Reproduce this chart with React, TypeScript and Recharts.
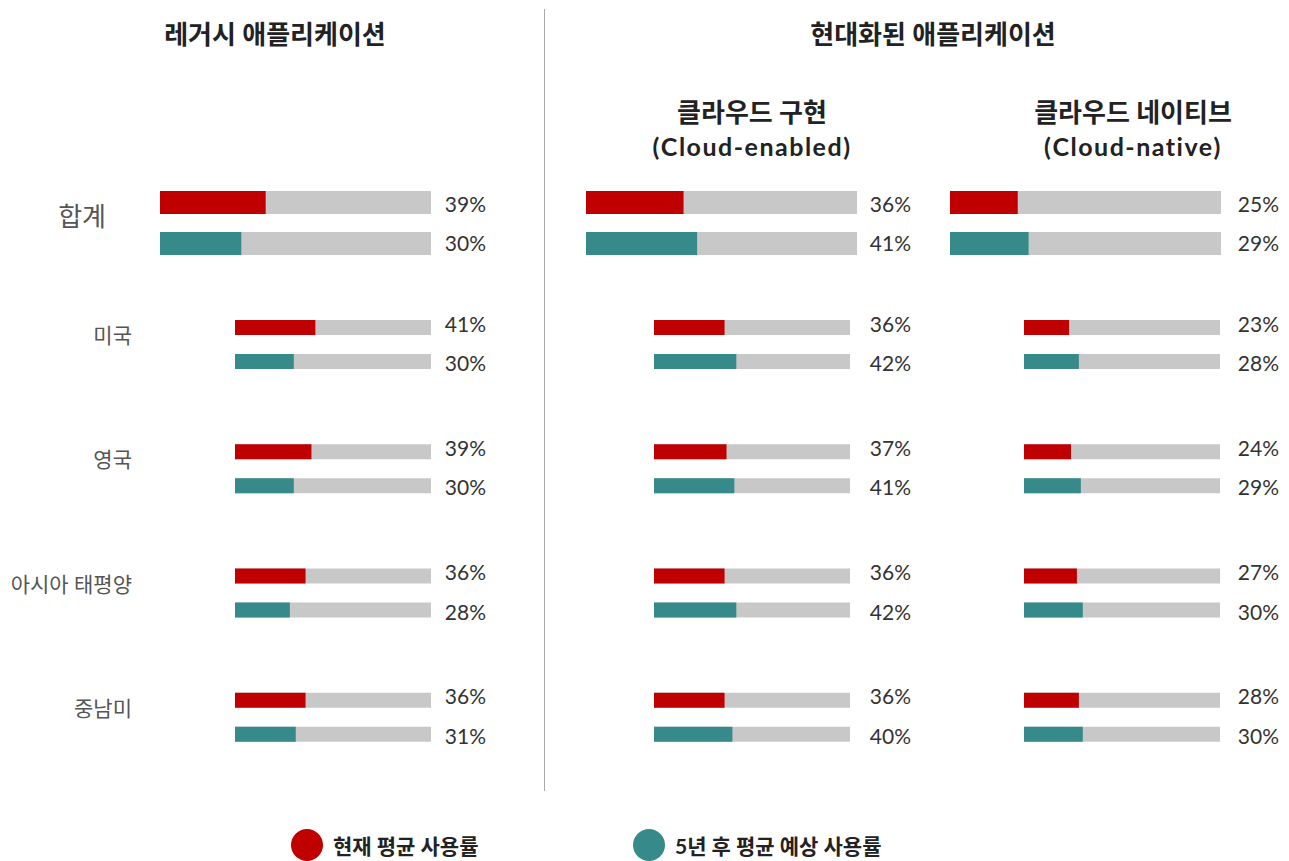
import React from "react";
import { BarChart, Bar, XAxis, YAxis, LabelList } from "recharts";

// region rows, the first one is the overall total
const regions = ["합계", "미국", "영국", "아시아 태평양", "중남미"];

// current average utilisation (%)
const legacyNow = [39, 41, 39, 36, 36];
const enabledNow = [36, 36, 37, 36, 36];
const nativeNow = [25, 23, 24, 27, 28];

// expected average utilisation in 5 years (%)
const legacyFuture = [30, 30, 30, 28, 31];
const enabledFuture = [41, 42, 41, 42, 40];
const nativeFuture = [29, 28, 29, 30, 30];

const legendLabels = ["현재 평균 사용률", "5년 후 평균 예상 사용률"];

const RED = "#c00000";
const TEAL = "#378a8a";
const GRAY = "#c8c8c8";
const FONT = "Lato, 'Noto Sans CJK KR', sans-serif";

function rows(now: number[], future: number[]) {
  return regions.map((name, i) => ({ name, now: now[i], future: future[i] }));
}

const pctLabel = (x: number, dy: number) => (props: any) => {
  const vb = props.viewBox || {};
  const y = vb.y ?? props.y;
  const h = vb.height ?? props.height;
  return (
    <text
      x={x}
      y={y + h / 2 + dy}
      textAnchor="end"
      dominantBaseline="central"
      fontSize={21}
      fill="#333"
    >
      {props.value}%
    </text>
  );
};

type BlockProps = {
  data: { name: string; now: number; future: number }[];
  trackLeft: number;
  trackWidth: number;
  labelRight: number;
  top: number;
  height: number;
  barSize: number;
  barGap: number;
  nowDy: number;
  futureDy: number;
  axis?: boolean;
  tickRight?: number;
  tickSize?: number;
  tickDy?: number;
};

function BarBlock(p: BlockProps) {
  const axisWidth = p.axis ? p.trackLeft : 0;
  const chartLeft = p.trackLeft - axisWidth;
  const rightPad = p.labelRight - (p.trackLeft + p.trackWidth) + 4;
  const width = axisWidth + p.trackWidth + rightPad;
  const labelX = p.labelRight - chartLeft;
  return (
    <div style={{ position: "absolute", left: chartLeft, top: p.top, width, height: p.height }}>
      <BarChart
        width={width}
        height={p.height}
        data={p.data}
        layout="vertical"
        margin={{ top: 0, right: rightPad, bottom: 0, left: 0 }}
        barSize={p.barSize}
        barGap={p.barGap}
      >
        <XAxis type="number" domain={[0, 100]} hide />
        <YAxis
          type="category"
          dataKey="name"
          hide={!p.axis}
          width={axisWidth || 1}
          axisLine={false}
          tickLine={false}
          tick={(t: any) => (
            <text
              x={p.tickRight}
              y={t.y + (p.tickDy || 0)}
              textAnchor="end"
              dominantBaseline="central"
              fontSize={p.tickSize}
              fill="#555"
            >
              {t.payload.value}
            </text>
          )}
        />
        <Bar dataKey="now" fill={RED} background={{ fill: GRAY }} isAnimationActive={false}>
          <LabelList dataKey="now" content={pctLabel(labelX, p.nowDy)} />
        </Bar>
        <Bar dataKey="future" fill={TEAL} background={{ fill: GRAY }} isAnimationActive={false}>
          <LabelList dataKey="future" content={pctLabel(labelX, p.futureDy)} />
        </Bar>
      </BarChart>
    </div>
  );
}

const panels = [
  { data: rows(legacyNow, legacyFuture), total: [160, 271], region: [235, 196], labelRight: 486, axis: true },
  { data: rows(enabledNow, enabledFuture), total: [586, 271], region: [654, 196], labelRight: 911, axis: false },
  { data: rows(nativeNow, nativeFuture), total: [950, 271], region: [1024, 196], labelRight: 1279, axis: false },
];

const headStyle: React.CSSProperties = {
  position: "absolute",
  transform: "translateX(-50%)",
  whiteSpace: "nowrap",
  fontSize: 26,
  fontWeight: 700,
  color: "#222",
  textAlign: "center",
  lineHeight: "34px",
};

const latinStyle: React.CSSProperties = { fontSize: 25, letterSpacing: 1.5 };

export default function App() {
  return (
    <div
      style={{
        position: "absolute",
        left: 0,
        top: 0,
        width: 1289,
        height: 861,
        background: "#fff",
        fontFamily: FONT,
        overflow: "hidden",
      }}
    >
      <div style={{ ...headStyle, left: 275, top: 17 }}>레거시 애플리케이션</div>
      <div style={{ ...headStyle, left: 933, top: 17 }}>현대화된 애플리케이션</div>
      <div style={{ ...headStyle, left: 752, top: 95 }}>
        클라우드 구현
        <br />
        <span style={latinStyle}>(Cloud-enabled)</span>
      </div>
      <div style={{ ...headStyle, left: 1133, top: 95 }}>
        클라우드 네이티브
        <br />
        <span style={latinStyle}>(Cloud-native)</span>
      </div>

      <div style={{ position: "absolute", left: 544, top: 9, width: 1, height: 782, background: "#aaa" }} />

      {panels.map((pn, i) => (
        <React.Fragment key={i}>
          <BarBlock
            data={pn.data.slice(0, 1)}
            trackLeft={pn.total[0]}
            trackWidth={pn.total[1]}
            labelRight={pn.labelRight}
            top={183}
            height={80}
            barSize={23}
            barGap={18}
            nowDy={0.5}
            futureDy={-1}
            axis={pn.axis}
            tickRight={106}
            tickSize={26}
            tickDy={-7.5}
          />
          <BarBlock
            data={pn.data.slice(1)}
            trackLeft={pn.region[0]}
            trackWidth={pn.region[1]}
            labelRight={pn.labelRight}
            top={282}
            height={497}
            barSize={15}
            barGap={19}
            nowDy={-4.5}
            futureDy={1}
            axis={pn.axis}
            tickRight={132}
            tickSize={21}
            tickDy={-9.5}
          />
        </React.Fragment>
      ))}

      {legendLabels.map((label, i) => (
        <div
          key={label}
          style={{
            position: "absolute",
            left: i === 0 ? 291 : 633,
            top: 829,
            height: 32,
            display: "flex",
            alignItems: "center",
            whiteSpace: "nowrap",
          }}
        >
          <span
            style={{
              width: 32,
              height: 32,
              borderRadius: 16,
              background: i === 0 ? RED : TEAL,
              display: "inline-block",
              marginRight: 10,
            }}
          />
          <span style={{ fontSize: 21, fontWeight: 700, color: "#222" }}>{label}</span>
        </div>
      ))}
    </div>
  );
}
